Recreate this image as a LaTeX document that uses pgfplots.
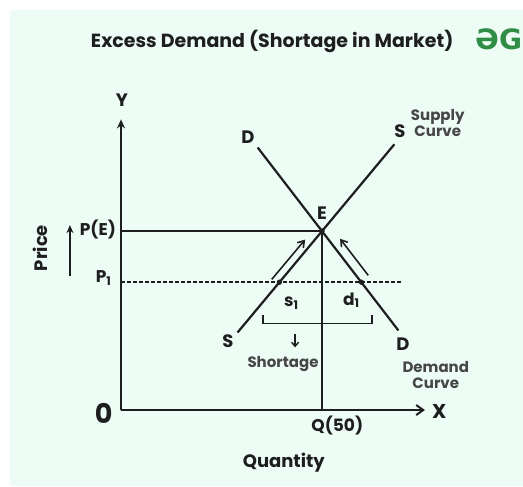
\documentclass[border=0pt]{standalone}
\usepackage{pgfplots}
\pgfplotsset{compat=1.18}
\usepackage{fontspec}
\setmainfont{Poppins}
\newfontfamily\logofont{DejaVu Sans}
\usetikzlibrary{arrows.meta}
\definecolor{mint}{RGB}{237,252,245}
\definecolor{ink}{RGB}{30,30,30}
\definecolor{soft}{RGB}{70,70,70}
\definecolor{gfg}{RGB}{47,141,70}
\newcommand{\fs}[1]{\fontsize{#1}{#1}\selectfont}

\begin{document}
\begin{tikzpicture}
\begin{axis}[
    hide axis,
    scale only axis,
    x=4.02pt, y=4.02pt,
    xmin=-30.1, xmax=100.0,
    ymin=-18.9, ymax=102.0,
    clip=false,
    cycle list={{ink, mark=none, line width=2pt}},
]

% background panel
\addplot[draw=none, fill=white] coordinates {(-30.1,-18.9) (100,-18.9) (100,102) (-30.1,102)} -- cycle;
\addplot[draw=none, fill=mint] coordinates {(-27.6,-18.9) (100,-18.9) (100,99.5) (-27.6,99.5)} -- cycle;

% axes
\addplot[ink, line width=2pt, -{Straight Barb[length=7pt,width=10pt]}] coordinates {(0,0) (75.6,0)};
\addplot[ink, line width=2pt, -{Stealth[length=9pt,width=8pt]}] coordinates {(0,0) (0,72.3)};

% equilibrium guides
\addplot[ink, line width=2pt] coordinates {(0,44.53) (50,44.53)};
\addplot[ink, line width=2pt] coordinates {(50,44.53) (50,0)};
\addplot[ink, line width=1.5pt, dash pattern=on 3.5pt off 2.5pt] coordinates {(0,31.8) (70.1,31.8)};

% supply and demand
\addplot[ink, line width=2.2pt] coordinates {(29,19.3) (68,66.1)};
\addplot[ink, line width=2.2pt] coordinates {(34,65.3) (69,19.8)};

% movement arrows
\addplot[ink, line width=1.6pt, -{Straight Barb[length=6pt,width=8pt]}] coordinates {(37.5,32.5) (45.8,42.4)};
\addplot[ink, line width=1.6pt, -{Straight Barb[length=6pt,width=8pt]}] coordinates {(61.5,33.5) (54.5,42.6)};

% shortage bracket
\addplot[ink, line width=1.4pt] coordinates {(35.3,23.6) (35.3,21.6) (62.4,21.6) (62.4,23.6)};
\addplot[ink, line width=1.4pt, -{Straight Barb[length=4pt,width=7pt]}] coordinates {(43.3,18.9) (43.3,15.6)};

% price arrow
\addplot[ink, line width=1.6pt, -{Stealth[length=8pt,width=7pt]}] coordinates {(-12.7,33.3) (-12.7,46.0)};

% points
\addplot[ink, only marks, mark=*, mark size=2.4pt] coordinates {(39.4,31.8) (59.8,31.8) (50,44.53)};

% labels
\node[ink, font=\fs{19}\bfseries] at (axis cs:37.6,91.6) {Excess Demand (Shortage in Market)};
\node[gfg, font=\logofont\fs{28}\bfseries, anchor=east, inner sep=0pt] at (axis cs:99.8,92.3) {ƏG};
\node[ink, font=\fs{18}\bfseries] at (axis cs:0.25,77.2) {Y};
\node[ink, font=\fs{20}\bfseries] at (axis cs:79.2,-0.3) {X};
\node[ink, font=\fs{27}\bfseries] at (axis cs:-4.3,-0.9) {0};
\node[ink, font=\fs{17}\bfseries] at (axis cs:53.8,-3.8) {Q(50)};
\node[ink, font=\fs{18}\bfseries] at (axis cs:40.5,-13.2) {Quantity};
\node[ink, font=\fs{17}\bfseries, anchor=east] at (axis cs:-0.4,45.0) {P(E)};
\node[ink, font=\fs{17}\bfseries, anchor=east] at (axis cs:-1.5,32.9) {P\textsubscript{1}};
\node[ink, font=\fs{18}\bfseries, rotate=90] at (axis cs:-20.1,40.3) {Price};
\node[ink, font=\fs{18}\bfseries] at (axis cs:31.6,67.8) {D};
\node[ink, font=\fs{18}\bfseries] at (axis cs:69.4,69.3) {S};
\node[soft, font=\fs{15}\bfseries, align=center] at (axis cs:78.8,71.4) {Supply\\[1pt]Curve};
\node[ink, font=\fs{18}\bfseries] at (axis cs:50,48.9) {E};
\node[ink, font=\fs{18}\bfseries] at (axis cs:26.6,17.2) {S};
\node[ink, font=\fs{18}\bfseries] at (axis cs:70.1,16.3) {D};
\node[soft, font=\fs{15}\bfseries, align=center] at (axis cs:78.3,8.6) {Demand\\[1pt]Curve};
\node[ink, font=\fs{17}\bfseries] at (axis cs:42.4,26.6) {s\textsubscript{1}};
\node[ink, font=\fs{17}\bfseries] at (axis cs:57.3,27.3) {d\textsubscript{1}};
\node[soft, font=\fs{15}\bfseries] at (axis cs:40.3,11.4) {Shortage};
\end{axis}
\end{tikzpicture}
\end{document}
